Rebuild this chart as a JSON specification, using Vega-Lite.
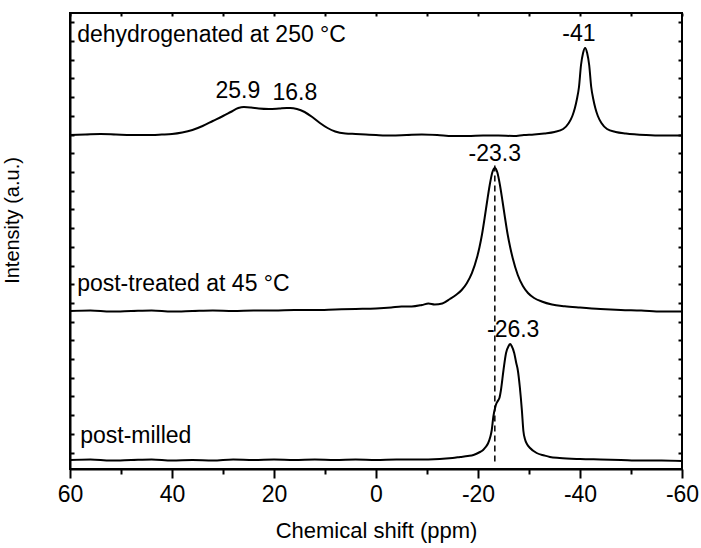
{
  "$schema": "https://vega.github.io/schema/vega-lite/v6.json",
  "width": 612,
  "height": 456,
  "autosize": "none",
  "padding": {"left": 70, "top": 13, "right": 19, "bottom": 79},
  "config": {
    "font": "Liberation Sans",
    "view": {"stroke": "black", "strokeWidth": 2},
    "axis": {"domainColor": "black", "tickColor": "black", "labelColor": "black", "titleColor": "black", "grid": false, "domainWidth": 2, "tickWidth": 2, "titleFontWeight": "normal"}
  },
  "datasets": {
    "spectra": [
      {"series":"dehydrogenated","shift":60,"intensity":334},
      {"series":"dehydrogenated","shift":57,"intensity":334.5},
      {"series":"dehydrogenated","shift":54,"intensity":335},
      {"series":"dehydrogenated","shift":51,"intensity":334.5},
      {"series":"dehydrogenated","shift":48,"intensity":334},
      {"series":"dehydrogenated","shift":45,"intensity":334},
      {"series":"dehydrogenated","shift":42,"intensity":334.5},
      {"series":"dehydrogenated","shift":40,"intensity":335},
      {"series":"dehydrogenated","shift":38,"intensity":336.5},
      {"series":"dehydrogenated","shift":36,"intensity":339},
      {"series":"dehydrogenated","shift":34,"intensity":343},
      {"series":"dehydrogenated","shift":32,"intensity":348},
      {"series":"dehydrogenated","shift":30,"intensity":353},
      {"series":"dehydrogenated","shift":28.5,"intensity":357},
      {"series":"dehydrogenated","shift":27,"intensity":361},
      {"series":"dehydrogenated","shift":25.9,"intensity":362},
      {"series":"dehydrogenated","shift":24.5,"intensity":361.5},
      {"series":"dehydrogenated","shift":23,"intensity":360.5},
      {"series":"dehydrogenated","shift":21,"intensity":360},
      {"series":"dehydrogenated","shift":19,"intensity":360.5},
      {"series":"dehydrogenated","shift":17.5,"intensity":361},
      {"series":"dehydrogenated","shift":16.8,"intensity":361},
      {"series":"dehydrogenated","shift":15.5,"intensity":360},
      {"series":"dehydrogenated","shift":14,"intensity":357},
      {"series":"dehydrogenated","shift":12.5,"intensity":352},
      {"series":"dehydrogenated","shift":11,"intensity":346},
      {"series":"dehydrogenated","shift":9.5,"intensity":341},
      {"series":"dehydrogenated","shift":8,"intensity":337.5},
      {"series":"dehydrogenated","shift":6,"intensity":335.5},
      {"series":"dehydrogenated","shift":4,"intensity":335},
      {"series":"dehydrogenated","shift":2,"intensity":334.5},
      {"series":"dehydrogenated","shift":0,"intensity":334},
      {"series":"dehydrogenated","shift":-3,"intensity":333.5},
      {"series":"dehydrogenated","shift":-6,"intensity":334},
      {"series":"dehydrogenated","shift":-9,"intensity":334.5},
      {"series":"dehydrogenated","shift":-12,"intensity":334},
      {"series":"dehydrogenated","shift":-15,"intensity":333},
      {"series":"dehydrogenated","shift":-18,"intensity":333},
      {"series":"dehydrogenated","shift":-21,"intensity":333.5},
      {"series":"dehydrogenated","shift":-24,"intensity":333.5},
      {"series":"dehydrogenated","shift":-27,"intensity":333},
      {"series":"dehydrogenated","shift":-29,"intensity":334},
      {"series":"dehydrogenated","shift":-31,"intensity":334.5},
      {"series":"dehydrogenated","shift":-33,"intensity":335.5},
      {"series":"dehydrogenated","shift":-35,"intensity":337},
      {"series":"dehydrogenated","shift":-36.7,"intensity":340},
      {"series":"dehydrogenated","shift":-37.8,"intensity":346},
      {"series":"dehydrogenated","shift":-38.5,"intensity":353},
      {"series":"dehydrogenated","shift":-39,"intensity":361},
      {"series":"dehydrogenated","shift":-39.4,"intensity":370},
      {"series":"dehydrogenated","shift":-39.8,"intensity":382},
      {"series":"dehydrogenated","shift":-40.2,"intensity":404},
      {"series":"dehydrogenated","shift":-40.6,"intensity":416},
      {"series":"dehydrogenated","shift":-41,"intensity":421},
      {"series":"dehydrogenated","shift":-41.4,"intensity":416},
      {"series":"dehydrogenated","shift":-41.8,"intensity":404},
      {"series":"dehydrogenated","shift":-42.2,"intensity":382},
      {"series":"dehydrogenated","shift":-42.6,"intensity":370},
      {"series":"dehydrogenated","shift":-43,"intensity":361},
      {"series":"dehydrogenated","shift":-43.5,"intensity":353},
      {"series":"dehydrogenated","shift":-44.2,"intensity":346},
      {"series":"dehydrogenated","shift":-45.3,"intensity":340},
      {"series":"dehydrogenated","shift":-47,"intensity":337},
      {"series":"dehydrogenated","shift":-49,"intensity":335.5},
      {"series":"dehydrogenated","shift":-53,"intensity":334},
      {"series":"dehydrogenated","shift":-56,"intensity":333.5},
      {"series":"dehydrogenated","shift":-60,"intensity":333.5},

      {"series":"post-treated","shift":60,"intensity":158},
      {"series":"post-treated","shift":56,"intensity":158.5},
      {"series":"post-treated","shift":52,"intensity":157.5},
      {"series":"post-treated","shift":48,"intensity":158},
      {"series":"post-treated","shift":44,"intensity":158.5},
      {"series":"post-treated","shift":40,"intensity":157.5},
      {"series":"post-treated","shift":36,"intensity":158},
      {"series":"post-treated","shift":32,"intensity":158.5},
      {"series":"post-treated","shift":28,"intensity":158},
      {"series":"post-treated","shift":24,"intensity":158.5},
      {"series":"post-treated","shift":20,"intensity":158.5},
      {"series":"post-treated","shift":16,"intensity":159},
      {"series":"post-treated","shift":12,"intensity":159},
      {"series":"post-treated","shift":8,"intensity":159.5},
      {"series":"post-treated","shift":4,"intensity":160},
      {"series":"post-treated","shift":0,"intensity":160.5},
      {"series":"post-treated","shift":-3,"intensity":161.5},
      {"series":"post-treated","shift":-5,"intensity":162.5},
      {"series":"post-treated","shift":-7,"intensity":162.5},
      {"series":"post-treated","shift":-9,"intensity":164},
      {"series":"post-treated","shift":-10.3,"intensity":165.5},
      {"series":"post-treated","shift":-11.5,"intensity":164.5},
      {"series":"post-treated","shift":-13,"intensity":165.5},
      {"series":"post-treated","shift":-14.5,"intensity":170},
      {"series":"post-treated","shift":-15.8,"intensity":174.5},
      {"series":"post-treated","shift":-16.8,"intensity":179},
      {"series":"post-treated","shift":-17.8,"intensity":185.8},
      {"series":"post-treated","shift":-18.8,"intensity":195.8},
      {"series":"post-treated","shift":-19.8,"intensity":211.4},
      {"series":"post-treated","shift":-20.3,"intensity":222},
      {"series":"post-treated","shift":-20.8,"intensity":235},
      {"series":"post-treated","shift":-21.3,"intensity":251},
      {"series":"post-treated","shift":-21.8,"intensity":268},
      {"series":"post-treated","shift":-22.3,"intensity":284},
      {"series":"post-treated","shift":-22.8,"intensity":296.5},
      {"series":"post-treated","shift":-23.3,"intensity":301},
      {"series":"post-treated","shift":-23.8,"intensity":296.5},
      {"series":"post-treated","shift":-24.3,"intensity":284},
      {"series":"post-treated","shift":-24.8,"intensity":268},
      {"series":"post-treated","shift":-25.3,"intensity":251},
      {"series":"post-treated","shift":-25.8,"intensity":235},
      {"series":"post-treated","shift":-26.3,"intensity":222},
      {"series":"post-treated","shift":-26.8,"intensity":211},
      {"series":"post-treated","shift":-27.8,"intensity":194},
      {"series":"post-treated","shift":-28.8,"intensity":183},
      {"series":"post-treated","shift":-29.8,"intensity":176},
      {"series":"post-treated","shift":-31,"intensity":171},
      {"series":"post-treated","shift":-32.5,"intensity":167.5},
      {"series":"post-treated","shift":-34.5,"intensity":164.5},
      {"series":"post-treated","shift":-37,"intensity":162.8},
      {"series":"post-treated","shift":-40,"intensity":161.5},
      {"series":"post-treated","shift":-44,"intensity":160},
      {"series":"post-treated","shift":-48,"intensity":159},
      {"series":"post-treated","shift":-52,"intensity":158.5},
      {"series":"post-treated","shift":-56,"intensity":157.5},
      {"series":"post-treated","shift":-60,"intensity":157.5},

      {"series":"post-milled","shift":60,"intensity":9},
      {"series":"post-milled","shift":56,"intensity":9.5},
      {"series":"post-milled","shift":52,"intensity":8.5},
      {"series":"post-milled","shift":48,"intensity":9},
      {"series":"post-milled","shift":44,"intensity":9.5},
      {"series":"post-milled","shift":40,"intensity":8.5},
      {"series":"post-milled","shift":36,"intensity":9},
      {"series":"post-milled","shift":32,"intensity":8.5},
      {"series":"post-milled","shift":28,"intensity":9.5},
      {"series":"post-milled","shift":24,"intensity":9},
      {"series":"post-milled","shift":20,"intensity":9.5},
      {"series":"post-milled","shift":16,"intensity":9},
      {"series":"post-milled","shift":12,"intensity":9.5},
      {"series":"post-milled","shift":8,"intensity":9},
      {"series":"post-milled","shift":4,"intensity":9.5},
      {"series":"post-milled","shift":0,"intensity":9},
      {"series":"post-milled","shift":-4,"intensity":9.5},
      {"series":"post-milled","shift":-8,"intensity":9.5},
      {"series":"post-milled","shift":-12.5,"intensity":10},
      {"series":"post-milled","shift":-15,"intensity":11},
      {"series":"post-milled","shift":-16.5,"intensity":12},
      {"series":"post-milled","shift":-18,"intensity":13},
      {"series":"post-milled","shift":-19.1,"intensity":14},
      {"series":"post-milled","shift":-20.2,"intensity":16.5},
      {"series":"post-milled","shift":-21,"intensity":19},
      {"series":"post-milled","shift":-21.5,"intensity":22},
      {"series":"post-milled","shift":-22,"intensity":26},
      {"series":"post-milled","shift":-22.4,"intensity":32},
      {"series":"post-milled","shift":-22.7,"intensity":39},
      {"series":"post-milled","shift":-23,"intensity":52},
      {"series":"post-milled","shift":-23.5,"intensity":64},
      {"series":"post-milled","shift":-24,"intensity":69},
      {"series":"post-milled","shift":-24.2,"intensity":71},
      {"series":"post-milled","shift":-24.5,"intensity":79},
      {"series":"post-milled","shift":-25,"intensity":99},
      {"series":"post-milled","shift":-25.5,"intensity":116},
      {"series":"post-milled","shift":-26,"intensity":123},
      {"series":"post-milled","shift":-26.3,"intensity":125},
      {"series":"post-milled","shift":-26.6,"intensity":123},
      {"series":"post-milled","shift":-27.1,"intensity":116},
      {"series":"post-milled","shift":-27.5,"intensity":106},
      {"series":"post-milled","shift":-27.8,"intensity":99},
      {"series":"post-milled","shift":-28.2,"intensity":82},
      {"series":"post-milled","shift":-28.6,"intensity":59},
      {"series":"post-milled","shift":-28.9,"intensity":38},
      {"series":"post-milled","shift":-29.2,"intensity":30},
      {"series":"post-milled","shift":-29.6,"intensity":25},
      {"series":"post-milled","shift":-30.2,"intensity":21},
      {"series":"post-milled","shift":-31.5,"intensity":16},
      {"series":"post-milled","shift":-33,"intensity":13.5},
      {"series":"post-milled","shift":-34.1,"intensity":12},
      {"series":"post-milled","shift":-36,"intensity":11},
      {"series":"post-milled","shift":-40,"intensity":10},
      {"series":"post-milled","shift":-44,"intensity":9.5},
      {"series":"post-milled","shift":-48,"intensity":9},
      {"series":"post-milled","shift":-52,"intensity":8.5},
      {"series":"post-milled","shift":-56,"intensity":8.5},
      {"series":"post-milled","shift":-60,"intensity":8}
    ],
    "marker": [
      {"shift": -23.3, "intensity": 7.5, "intensity2": 306}
    ],
    "names": [
      {"label": "dehydrogenated at 250 °C", "shift": 58.6, "intensity": 427},
      {"label": "post-treated at 45 °C", "shift": 58.6, "intensity": 178},
      {"label": "post-milled", "shift": 58, "intensity": 26}
    ],
    "peaks": [
      {"label": "25.9", "shift": 27.1, "intensity": 371},
      {"label": "16.8", "shift": 15.9, "intensity": 368.6},
      {"label": "-41", "shift": -39.8, "intensity": 427.6},
      {"label": "-23.3", "shift": -23.3, "intensity": 307.6},
      {"label": "-26.3", "shift": -26.9, "intensity": 132}
    ]
  },
  "layer": [
    {
      "data": {"name": "spectra"},
      "mark": {"type": "line", "color": "black", "strokeWidth": 2, "interpolate": "monotone"},
      "encoding": {
        "x": {"field": "shift", "type": "quantitative",
              "scale": {"domain": [-60, 60], "reverse": true, "nice": false, "zero": false},
              "axis": {"orient": "bottom", "values": [-60, -40, -20, 0, 20, 40, 60], "tickSize": 9, "labelPadding": 5,
                       "labelFontSize": 23, "labelExpr": "'' + datum.value", "labelFlush": false,
                       "title": "Chemical shift (ppm)", "titleFontSize": 22, "titleBaseline": "alphabetic", "titleY": 68}},
        "y": {"field": "intensity", "type": "quantitative",
              "scale": {"domain": [0, 456], "nice": false, "zero": false},
              "axis": {"orient": "left", "values": [16.5, 35.2, 53.9, 72.6, 91.3, 110, 128.7, 147.4, 166.1, 184.8, 203.5, 222.2, 240.9, 259.6, 278.3, 297, 315.7, 334.4, 353.1, 371.8, 390.5, 409.2, 427.9, 446.6],
                       "tickSize": -4, "labels": false, "title": "Intensity (a.u.)", "titleFontSize": 20,
                       "titleBaseline": "alphabetic", "titleX": -52, "titleY": 207}},
        "detail": {"field": "series"}
      }
    },
    {
      "data": {"name": "marker"},
      "mark": {"type": "rule", "color": "black", "strokeWidth": 1.5, "strokeDash": [6, 4]},
      "encoding": {
        "x": {"field": "shift", "type": "quantitative",
              "axis": {"orient": "bottom", "values": [-50, -30, -10, 10, 30, 50], "tickSize": 5, "labels": false, "domain": false, "title": null}},
        "y": {"field": "intensity", "type": "quantitative",
              "axis": {"orient": "right", "values": [16.5, 35.2, 53.9, 72.6, 91.3, 110, 128.7, 147.4, 166.1, 184.8, 203.5, 222.2, 240.9, 259.6, 278.3, 297, 315.7, 334.4, 353.1, 371.8, 390.5, 409.2, 427.9, 446.6],
                       "tickSize": -4, "labels": false, "domain": false, "title": null}},
        "y2": {"field": "intensity2"}
      }
    },
    {
      "data": {"name": "names"},
      "mark": {"type": "text", "align": "left", "baseline": "alphabetic", "fontSize": 23, "color": "black"},
      "encoding": {
        "x": {"field": "shift", "type": "quantitative",
              "axis": {"orient": "top", "values": [-60, -50, -40, -30, -20, -10, 0, 10, 20, 30, 40, 50, 60], "tickSize": -3, "labels": false, "domain": false, "title": null}},
        "y": {"field": "intensity", "type": "quantitative", "axis": null},
        "text": {"field": "label"}
      }
    },
    {
      "data": {"name": "peaks"},
      "mark": {"type": "text", "align": "center", "baseline": "alphabetic", "fontSize": 23, "color": "black"},
      "encoding": {
        "x": {"field": "shift", "type": "quantitative", "axis": null},
        "y": {"field": "intensity", "type": "quantitative", "axis": null},
        "text": {"field": "label"}
      }
    }
  ],
  "resolve": {"axis": {"x": "independent", "y": "independent"}}
}
